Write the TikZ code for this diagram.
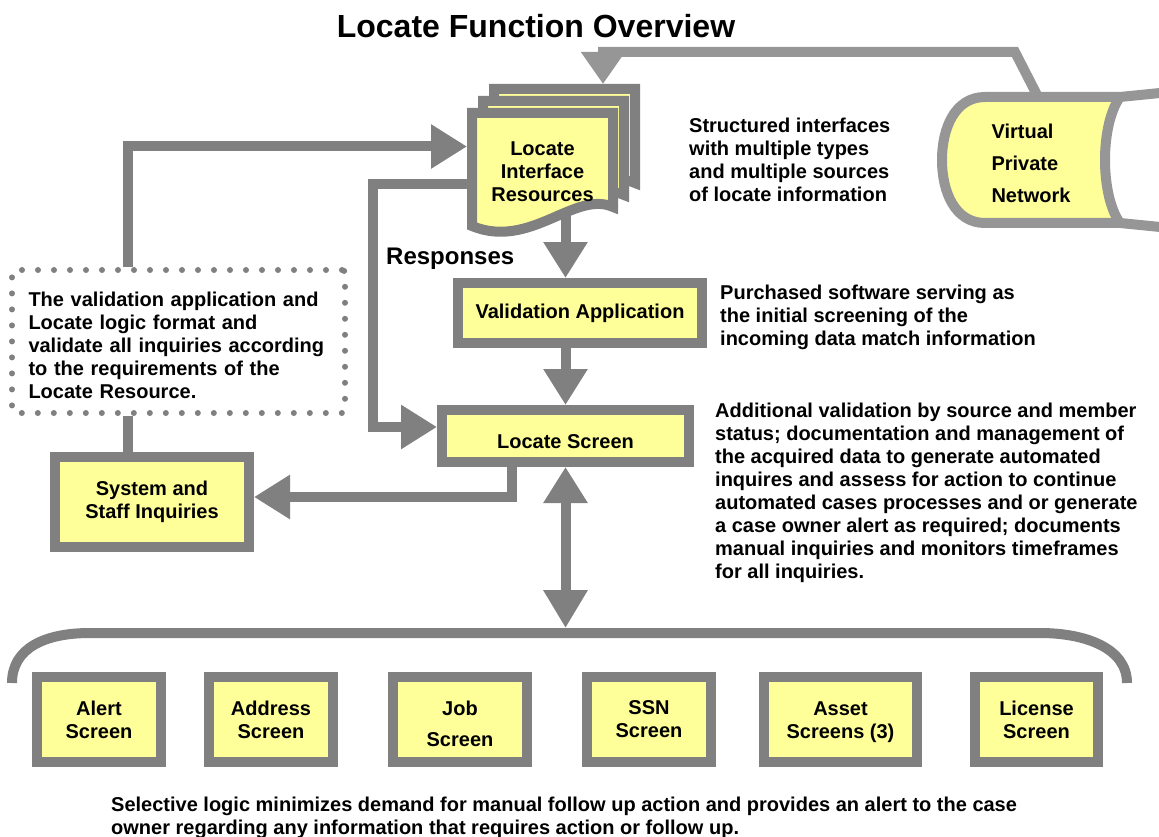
\documentclass[tikz,border=0pt]{standalone}
\usepackage{fontspec}
\setmainfont{Liberation Sans}
\usepackage{xcolor}
\usetikzlibrary{arrows.meta,positioning,calc}
\definecolor{boxgray}{RGB}{128,128,128}
\definecolor{netgray}{RGB}{150,150,150}
\definecolor{boxyellow}{RGB}{255,255,153}
\pgfdeclarelayer{background}
\pgfsetlayers{background,main}

\begin{document}
\begin{tikzpicture}[x=1pt,y=-1pt,
    txt/.style={font=\bfseries\fontsize{20}{23}\selectfont, inner sep=0pt},
    box/.style={txt, draw=boxgray, fill=boxyellow, line width=10pt, align=center},
    page/.style={draw=boxgray, fill=boxyellow, line width=10pt},
    conn/.style={draw=boxgray, line width=10pt},
    head/.style={-{Triangle[width=42pt,length=36pt]}},
    net/.style={draw=netgray, line width=10pt}]

    \useasboundingbox (0,0) rectangle (1159,837);

    % title
    \node[font=\bfseries\fontsize{32}{38}\selectfont, inner sep=0pt] (title) at (536,26) {Locate Function Overview};

    % virtual private network
    \fill[boxyellow] (1120,97) -- (985,97) .. controls (955,97) and (942,128) .. (942,160)
        .. controls (942,192) and (955,223) .. (985,223) -- (1120,223)
        .. controls (1100,195) and (1100,125) .. (1120,97) -- cycle;
    \draw[net] (1170,92) -- (1120,97) -- (985,97) .. controls (955,97) and (942,128) .. (942,160)
        .. controls (942,192) and (955,223) .. (985,223) -- (1120,223) -- (1170,228);
    \draw[net] (1120,97) .. controls (1100,125) and (1100,195) .. (1120,223);
    \node[txt, font=\bfseries\fontsize{20}{32}\selectfont, align=left, minimum width=178pt,
        minimum height=126pt, outer sep=5pt] (vpn) at (1031,163) {Virtual\\Private\\Network};

    % stack of locate resources
    \foreach \k in {2,1,0} {
        \begin{scope}[shift={(11*\k,-12*\k)}]
            \draw[page] (472,113) -- (613,113) -- (613,207) .. controls (575,190) and (530,250) .. (472,226) -- cycle;
        \end{scope}
    }
    \node[txt, align=center, minimum width=141pt, minimum height=113pt, outer sep=5pt] (lir) at (542.5,171.5) {Locate\\Interface\\Resources};
    \coordinate (stacktop) at (603,84);

    % main boxes
    \node[box, minimum width=244pt, minimum height=60pt] (vapp) at (580,313) {Validation Application};
    \node[box, minimum width=247pt, minimum height=52pt] (lscreen) at (565.5,436) {\rule{0pt}{24.5pt}Locate Screen};
    \node[box, minimum width=194pt, minimum height=90pt] (sys) at (152,502) {System and\\Staff Inquiries};
    \coordinate (brk) at (565.5,628);

    % validation note
    \node[txt, align=left, text width=300pt, draw=boxgray, line width=6pt, dash pattern=on 0pt off 16pt,
        line cap=round, rounded corners=3pt, minimum width=333pt, minimum height=143pt] (note) at (178.5,341.5)
        {\rule{0pt}{22.6pt}The validation application and\\Locate logic format and\\validate all inquiries according\\to the requirements of the\\Locate Resource.};

    % screens
    \foreach \cx/\w/\name/\lbl in {99/124/alert/{Alert\\Screen}, 271/124/address/{Address\\Screen},
        460/134/job/{\rule{0pt}{22.6pt}Job\\[8pt]Screen}, 649/124/ssn/{SSN\\Screen},
        840.5/153/asset/{\rule{0pt}{18.5pt}Asset\\Screens (3)}, 1036.5/123/license/{License\\Screen}} {
        \node[box, minimum width=\w pt, minimum height=85pt] (\name) at (\cx,719.5) {\lbl};
    }

    % side texts
    \node[txt, align=left, anchor=west] (info) at (689,160) {Structured interfaces\\with multiple types\\and multiple sources\\of locate information};
    \node[txt, align=left, anchor=west] (purchased) at (720,317) {Purchased software serving as\\the initial screening of the\\incoming data match information};
    \node[txt, align=left, anchor=west] (additional) at (715,493) {Additional validation by source and member\\status; documentation and management of\\the acquired data to generate automated\\inquires and assess for action to continue\\automated cases processes and or generate\\a case owner alert as required; documents\\manual inquiries and monitors timeframes\\for all inquiries.};
    \node[font=\bfseries\fontsize{24}{28}\selectfont, inner sep=0pt, anchor=west] (resp) at (386,259) {Responses};
    \node[txt, align=left, anchor=west] (summary) at (111,818)
        {Selective logic minimizes demand for manual follow up action and provides an alert to the case\\owner regarding any information that requires action or follow up.};

    % connectors
    \begin{pgfonlayer}{background}
        \draw[net, -{Triangle[width=42pt,length=32pt]}] ([xshift=6pt]vpn.north) -- (1015,52) -| (stacktop);
        \draw[conn, head] ($(note.north)+(-51,0)$) |- ($(lir.west)+(0,-25)$);
        \draw[conn, head] ($(lir.west)+(8,12.5)$) -| (373,300) |- ($(lscreen.west)+(0,-9)$);
        \draw[conn, head] (lir.center -| lscreen.north) -- (lscreen.north |- vapp.north);
        \draw[conn, head] (lscreen.north |- vapp.south) -- (lscreen.north);
        \draw[conn, head] ($(lscreen.south)+(-54,-5)$) |- ($(sys.east)+(0,-5)$);
        \draw[conn] ($(note.south)+(-51,0)$) -- ($(sys.north)+(-24.5,0)$);
        \draw[conn, {Triangle[width=42pt,length=36pt]}-{Triangle[width=42pt,length=38pt]}] (lscreen.south) -- (brk);

        % bracket over the screens
        \draw[conn] (12,683) .. controls (12,648) and (45,633) .. (90,633) -- (1040,633)
            .. controls (1085,633) and (1127,648) .. (1127,683);
    \end{pgfonlayer}
\end{tikzpicture}
\end{document}
